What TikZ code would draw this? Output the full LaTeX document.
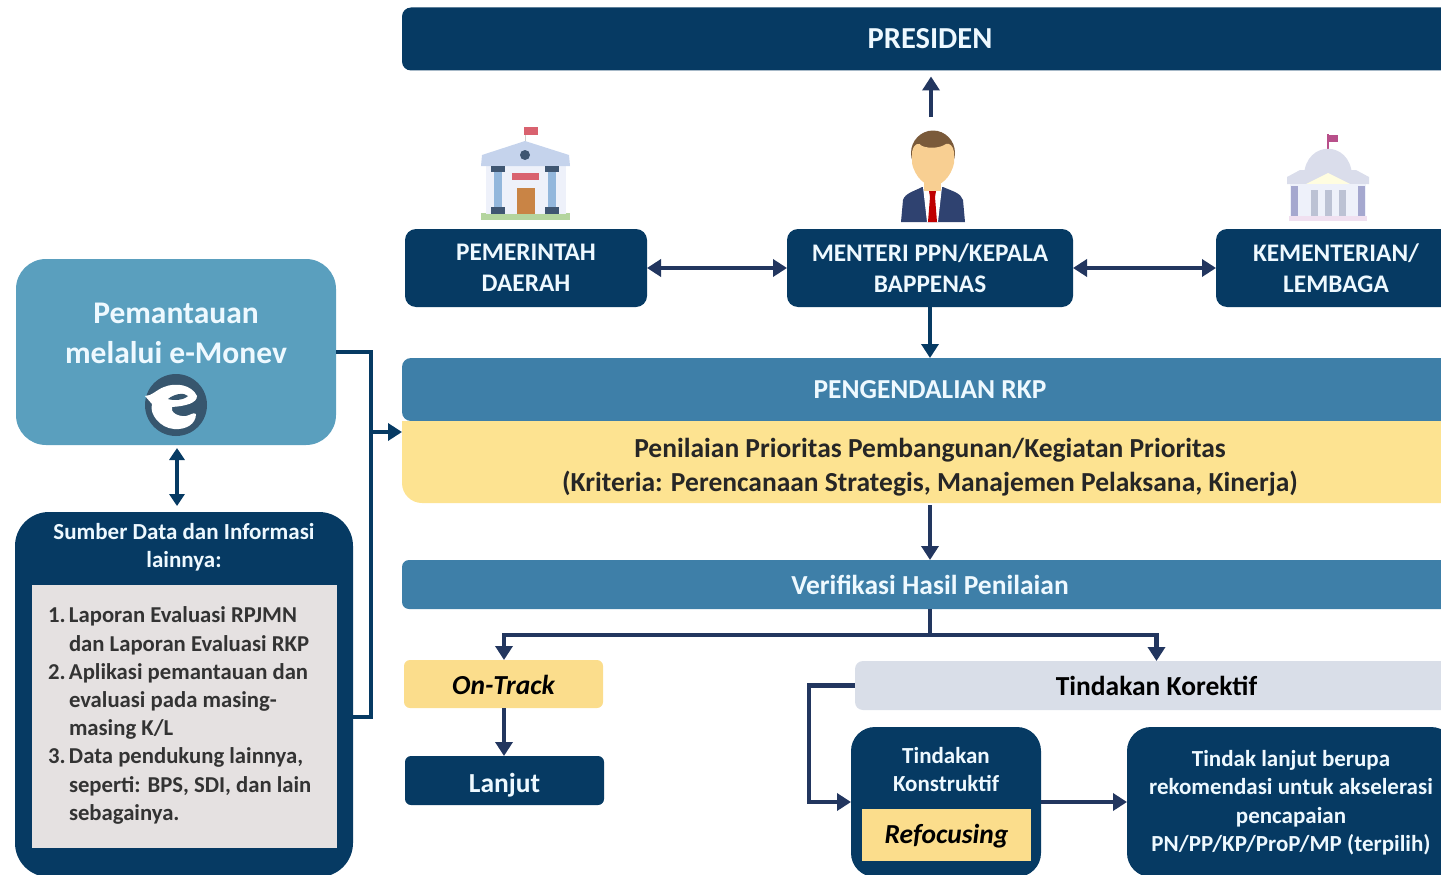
\documentclass[tikz,border=0pt]{standalone}
\usepackage{fontspec}
\setmainfont{Carlito}
\usetikzlibrary{arrows.meta,calc,positioning}
\definecolor{navy}{HTML}{063A63}
\definecolor{arrowblue}{HTML}{22365F}
\definecolor{band}{HTML}{3E7FA8}
\definecolor{monev}{HTML}{5A9FBE}
\definecolor{soft}{HTML}{FDE391}
\definecolor{softb}{HTML}{FBDD8C}
\definecolor{greyb}{HTML}{D9DEE8}
\definecolor{listbg}{HTML}{E5E1E1}
\definecolor{txtw}{HTML}{EEF9FF}
\definecolor{skin}{HTML}{F8CF92}
\definecolor{hair}{HTML}{7A5A3A}
\definecolor{suit}{HTML}{2F4270}
\definecolor{roof}{HTML}{C5D3EC}
\definecolor{wall}{HTML}{EEF1FA}
\definecolor{pillar}{HTML}{93B7DC}
\definecolor{trim}{HTML}{3F5672}
\definecolor{door}{HTML}{C98445}
\definecolor{lawn}{HTML}{B4D59F}
\definecolor{flagr}{HTML}{D9626F}
\definecolor{dome}{HTML}{DADDEB}
\definecolor{pilb}{HTML}{A5A8CF}
\definecolor{pilg}{HTML}{BCC2D4}
\definecolor{flagv}{HTML}{B8508A}
\newcommand{\fs}[1]{\fontsize{#1}{#1}\selectfont}
\tikzset{
  base/.style={inner sep=0pt,outer sep=0pt,align=center,font=\bfseries},
  navybox/.style={base,fill=navy,text=txtw,rounded corners=11pt},
  arr/.style={draw=arrowblue,line width=4.6pt,-{Triangle[length=14pt,width=17pt]}},
  darr/.style={draw=arrowblue,line width=4.6pt,{Triangle[length=14pt,width=17pt]}-{Triangle[length=14pt,width=17pt]}},
  link/.style={draw=navy,line width=4.6pt,line join=miter},
}
\begin{document}
\begin{tikzpicture}[x=1pt,y=-1pt]
\useasboundingbox (0,0) rectangle (1441,875);
\clip (0,0) rectangle (1441,875);
% --- icons: government building
\fill[flagr] (524,127) rectangle (538,135);
\draw[gray!40,line width=1pt] (525,135) -- (525,146);
\fill[lawn] (481,213) rectangle (570,220);
\fill[wall] (486,165) rectangle (566,214);
\fill[roof] (482,155) -- (525,141) -- (569,155) -- (570,166) -- (481,166) -- cycle;
\fill[trim] (525,155) circle (5pt);
\fill[trim] (491,166) rectangle (505,172);
\fill[trim] (545,166) rectangle (559,172);
\fill[pillar] (494,172) rectangle (502,207);
\fill[pillar] (548,172) rectangle (556,207);
\fill[trim] (491,207) rectangle (505,214);
\fill[trim] (545,207) rectangle (559,214);
\fill[flagr] (512,173) rectangle (539,180);
\fill[door] (517,188) rectangle (535,214);
% --- icons: person
\fill[suit] (901,222) -- (903,200) .. controls (905,193) and (915,191) .. (922,187) -- (943,187) .. controls (952,191) and (961,193) .. (963,200) -- (965,222) -- cycle;
\fill[white] (923,187) -- (942,187) -- (938,222) -- (927,222) -- cycle;
\fill[red!75!black] (929,191) -- (936,191) -- (935,197) -- (937,222) -- (928,222) -- (930,197) -- cycle;
\fill[skin] (924,172) rectangle (941,191);
\fill[hair] (933,153) ellipse (22pt and 22.5pt);
\fill[skin] (912,152) .. controls (914,143) and (919,142) .. (922,146) .. controls (930,149) and (940,148) .. (946,144) .. controls (950,143) and (953,146) .. (954,152) -- (954,163) .. controls (951,178) and (940,186) .. (933,186) .. controls (926,186) and (915,178) .. (912,163) -- cycle;
% --- icons: parliament building
\fill[flagv] (1327,134) rectangle (1329,150);
\fill[flagv] (1329,135) rectangle (1338,142);
\fill[dome] (1304,175) .. controls (1306,140) and (1350,140) .. (1352,175) -- cycle;
\fill[dome] (1287,177) -- (1300,170) -- (1356,170) -- (1369,177) -- (1369,184) -- (1287,184) -- cycle;
\fill[yellow!12] (1328,173) -- (1350,184) -- (1306,184) -- cycle;
\fill[wall] (1290,184) rectangle (1366,216);
\fill[pilb] (1291,186) rectangle (1298,216);
\fill[pilb] (1358,186) rectangle (1365,216);
\fill[pilg] (1311,190) rectangle (1318,216);
\fill[pilg] (1325,190) rectangle (1332,216);
\fill[pilg] (1339,190) rectangle (1346,216);
\fill[violet!12] (1289,216) rectangle (1367,221);
% --- boxes
\node[navybox,minimum width=1056pt,minimum height=63pt,font=\bfseries\fs{30.5},rounded corners=9pt] (presiden) at (930,39) {PRESIDEN};
\node[navybox,minimum width=242pt,minimum height=78pt,font=\bfseries\fs{25.3}] (pemda) at (526,268) {PEMERINTAH\\[5.5pt]DAERAH};
\node[navybox,minimum width=286pt,minimum height=78pt,font=\bfseries\fs{25.3}] (menteri) at (930,268) {MENTERI PPN/KEPALA\\[5.5pt]BAPPENAS};
\node[navybox,minimum width=240pt,minimum height=78pt,font=\bfseries\fs{25.3}] (kl) at (1336,268) {KEMENTERIAN/\\[5.5pt]LEMBAGA};
\node[base,fill=monev,text=txtw,rounded corners=30pt,minimum width=320pt,minimum height=186pt] (monev) at (176,352) {};
\node[base,text=txtw,font=\bfseries\fs{31.5}] (monevtext) at (176,333.5) {Pemantauan\\[8.5pt]melalui e-Monev};
\node[base,circle,fill=navy!60!gray,minimum size=62pt] (logo) at (176,405) {};
\path[fill=white] (145,396) .. controls (152,396) and (156,390) .. (164,387) .. controls (176,382) and (192,385) .. (197,396) .. controls (197,403) and (186,406) .. (172,407) .. controls (170,412) and (178,417) .. (186,416) .. controls (191,415) and (193,412) .. (196,414) .. controls (196,424) and (186,430) .. (174,429) .. controls (160,428) and (149,414) .. (152,404) -- cycle;
\path[fill=navy!60!gray] (168,399) .. controls (174,394) and (184,392) .. (188,396) .. controls (184,400) and (174,401) .. (168,399) -- cycle;
\node[base,fill=navy,text=txtw,rounded corners=34pt,minimum width=338pt,minimum height=365pt] (sumber) at (184,694.5) {};
\node[base,text=txtw,font=\bfseries\fs{23}] (sumbertext) at (184,547) {Sumber Data dan Informasi\\[4.5pt]lainnya:};
\node[base,fill=listbg,minimum width=305pt,minimum height=263pt] (listbox) at (184.5,716.5) {};
\node[base,align=left,text=black!80,font=\bfseries\fs{22.7},anchor=north west] (listtext) at (48,607) {%
\makebox[21pt][l]{1.}Laporan Evaluasi RPJMN\\[5.5pt]
\hspace*{21pt}dan Laporan Evaluasi RKP\\[5.5pt]
\makebox[21pt][l]{2.}Aplikasi pemantauan dan\\[5.5pt]
\hspace*{21pt}evaluasi pada masing-\\[5.5pt]
\hspace*{21pt}masing K/L\\[5.5pt]
\makebox[21pt][l]{3.}Data pendukung lainnya,\\[5.5pt]
\hspace*{21pt}seperti: BPS, SDI, dan lain\\[5.5pt]
\hspace*{21pt}sebagainya.};
% RKP band
\path[fill=band,rounded corners=9pt] (402,421) -- (402,358) -- (1470,358) -- (1470,421) -- cycle;
\node[base,text=txtw,font=\bfseries\fs{27.4}] (rkp) at (930,389.5) {PENGENDALIAN RKP};
\path[fill=soft,rounded corners=20pt] (402,421) -- (402,503) -- (1470,503) -- (1470,421) -- cycle;
\fill[soft] (402,421) rectangle (1470,440);
\coordinate (bandleft) at (402,432);
\coordinate (bandtop) at (930,358);
\coordinate (yellowbot) at (930,503);
\node[base,text=black!85,font=\bfseries\fs{27.5}] (yellowtext) at (930,467) {Penilaian Prioritas Pembangunan/Kegiatan Prioritas\\[6.5pt](Kriteria: Perencanaan Strategis, Manajemen Pelaksana, Kinerja)};
\node[base,fill=band,text=txtw,rounded corners=7pt,minimum width=1056pt,minimum height=49pt,font=\bfseries\fs{27.5}] (verif) at (930,584.5) {Verifikasi Hasil Penilaian};
\node[base,fill=softb,text=black,rounded corners=6pt,minimum width=199pt,minimum height=48pt,text height=21pt,text depth=0pt,font=\bfseries\itshape\fs{27.5}] (ontrack) at (503.5,684) {On-Track};
\node[navybox,rounded corners=6pt,minimum width=199pt,minimum height=49pt,text height=24pt,text depth=0pt,font=\bfseries\fs{27.5}] (lanjut) at (504.5,780.5) {Lanjut};
\node[base,fill=greyb,text=black,rounded corners=8pt,minimum width=603pt,minimum height=49pt,font=\bfseries\fs{27.5}] (korektif) at (1156.5,685.5) {Tindakan Korektif};
\node[navybox,rounded corners=24pt,minimum width=190pt,minimum height=150pt] (konstruktif) at (946,802) {};
\node[base,text=txtw,font=\bfseries\fs{23}] (konstext) at (946,769.5) {Tindakan\\[5.5pt]Konstruktif};
\node[base,fill=softb,text=black,minimum width=169pt,minimum height=52pt,text height=23pt,text depth=6pt,font=\bfseries\itshape\fs{27.5}] (refocus) at (946.5,835) {Refocusing};
\node[navybox,rounded corners=24pt,minimum width=328pt,minimum height=150pt] (tindak) at (1291,802) {};
\node[base,text=txtw,font=\bfseries\fs{23}] (tindaktext) at (1291,802.5) {Tindak lanjut berupa\\[5.5pt]rekomendasi untuk akselerasi\\[5.5pt]pencapaian\\[5.5pt]PN/PP/KP/ProP/MP (terpilih)};
% --- connectors
\coordinate (uparrow) at (931,117);
\draw[arr,shorten >=6pt] (uparrow) -- (uparrow |- presiden.south);
\draw[darr] (pemda.east) -- (menteri.west);
\draw[darr] (menteri.east) -- (kl.west);
\draw[arr,draw=navy] (menteri.south) -- (bandtop);
\draw[arr] (yellowbot) ++(0,2) -- (verif.north);
\draw[darr,draw=navy,line width=3.6pt,{Triangle[length=12pt,width=15pt]}-{Triangle[length=12pt,width=15pt]}] ([yshift=-3pt]monev.south) ++(1,0) -- ([yshift=6pt]sumber.north -| 177,0);
\coordinate (join) at (371,352);
\draw[link] (monev.east) -- (join) -- (join |- 0,717) -- (sumber.east |- 0,717);
\draw[arr,draw=navy] (join |- bandleft) -- (bandleft);
\coordinate (split) at (930,635);
\draw[link,draw=arrowblue] (verif.south) -- (split);
\draw[arr] (split) -| (ontrack.north -| 504,0);
\draw[arr] (split) -| (korektif.north);
\draw[arr] (ontrack.south -| 504,0) -- (lanjut.north -| 504,0);
\coordinate (elbow) at (809,685.5);
\draw[arr] (korektif.west) -- (elbow) |- (konstruktif.west |- 0,802);
\draw[arr] (konstruktif.east |- 0,802) -- (tindak.west |- 0,802);
\end{tikzpicture}
\end{document}
